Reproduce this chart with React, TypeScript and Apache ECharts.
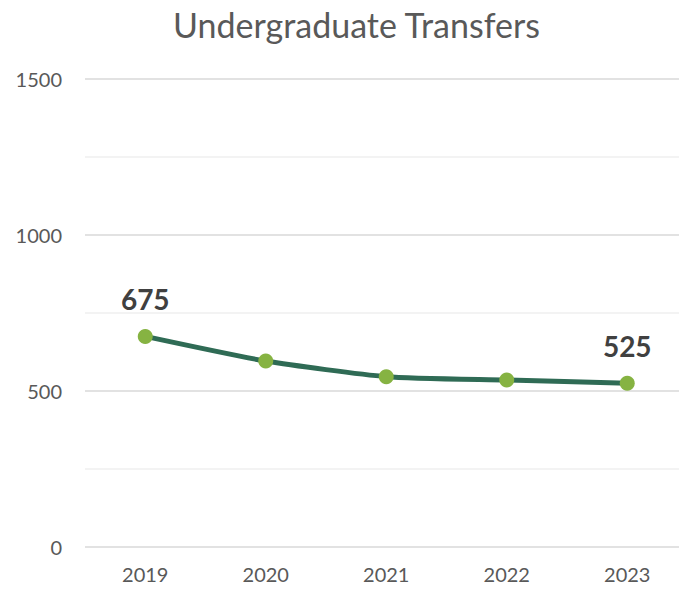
import React, { useEffect, useRef } from "react";
import * as echarts from "echarts";

const categories = ["2019", "2020", "2021", "2022", "2023"];
const transfers = [675, 596, 546, 535, 525];
const yTicks = [0, 500, 1000, 1500];

export default function App() {
  const ref = useRef<HTMLDivElement>(null);
  useEffect(() => {
    document.body.style.margin = "0";
    const chart = echarts.init(ref.current!, null, { renderer: "svg" });
    const font = "Lato, 'Open Sans', sans-serif";
    chart.setOption({
      animation: false,
      backgroundColor: "#ffffff",
      title: {
        text: "Undergraduate Transfers",
        left: "center",
        top: 2,
        textStyle: { fontFamily: font, fontSize: 34, fontWeight: "normal", color: "#595959" },
      },
      grid: { left: 85, top: 79, width: 602.5, height: 468 },
      xAxis: {
        type: "category",
        data: categories,
        boundaryGap: true,
        axisLine: { show: false },
        axisTick: { show: false },
        axisLabel: { fontFamily: font, fontSize: 20, color: "#595959", margin: 17 },
      },
      yAxis: {
        type: "value",
        min: 0,
        max: 1500,
        interval: 250,
        axisLine: { show: false },
        axisTick: { show: false },
        axisLabel: {
          fontFamily: font,
          fontSize: 20,
          color: "#595959",
          margin: 23,
          formatter: (v: number) => (yTicks.includes(v) ? String(v) : ""),
        },
        splitLine: { lineStyle: { color: ["#d9d9d9", "#efefef"], width: 1.5 } },
      },
      series: [
        {
          type: "line",
          data: transfers.map((v, i) => ({
            value: v,
            label: {
              show: i === 0 || i === transfers.length - 1,
            },
          })),
          smooth: 0.2,
          symbol: "circle",
          symbolSize: 15,
          lineStyle: { color: "#2F6B55", width: 5 },
          itemStyle: { color: "#86B342" },
          label: {
            position: "top",
            distance: 16,
            fontFamily: font,
            fontSize: 28,
            fontWeight: "bold",
            color: "#404040",
          },
        },
      ],
    });
    return () => chart.dispose();
  }, []);
  return (
    <div style={{ width: 679, height: 590, overflow: "hidden" }}>
      <div ref={ref} style={{ width: 713, height: 590 }} />
    </div>
  );
}
